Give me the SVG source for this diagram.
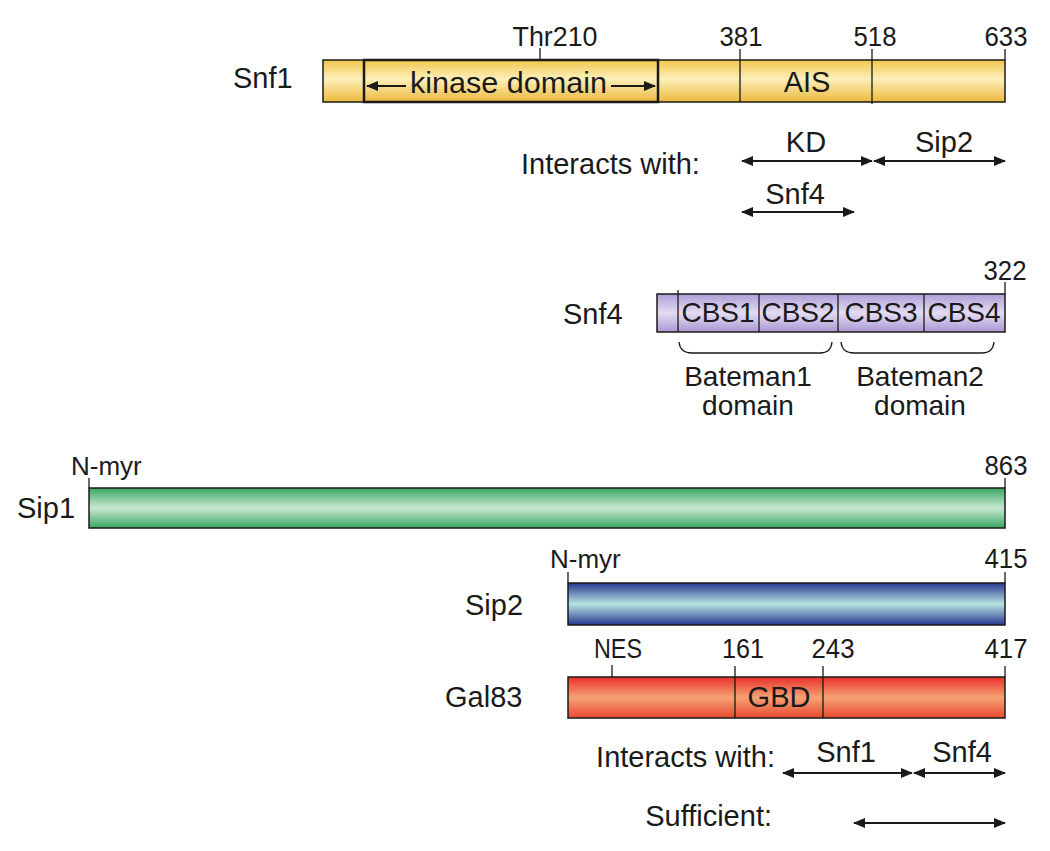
<svg xmlns="http://www.w3.org/2000/svg" width="1050" height="851" viewBox="0 0 1050 851">
<style>
text{font-family:"Liberation Sans",Arial,sans-serif;fill:#1a1a1a}
.lab{font-size:29px}
.num{font-size:28px;text-anchor:middle}
.mid{text-anchor:middle}
.bar{stroke:#1a1a1a;stroke-width:1.5}
.tick{stroke:#1a1a1a;stroke-width:1.3;fill:none}
.arr{stroke:#1a1a1a;stroke-width:2;fill:none;marker-start:url(#ah);marker-end:url(#ah)}
.brace{stroke:#1a1a1a;stroke-width:1.3;fill:none}
.bat{font-size:28px;text-anchor:middle}
</style>
<defs>
<marker id="ah" viewBox="0 0 12 10" refX="11" refY="5" markerWidth="12" markerHeight="10" markerUnits="userSpaceOnUse" orient="auto-start-reverse">
<path d="M0,0 L12,5 L0,10 Z" fill="#1a1a1a"/>
</marker>
<linearGradient id="gY" x1="0" y1="0" x2="0" y2="1">
<stop offset="0" stop-color="#f2c64c"/><stop offset="0.45" stop-color="#fdf0ba"/><stop offset="1" stop-color="#ecb83c"/>
</linearGradient>
<linearGradient id="gP" x1="0" y1="0" x2="0" y2="1">
<stop offset="0" stop-color="#ae9dd6"/><stop offset="0.5" stop-color="#e3dcf2"/><stop offset="1" stop-color="#a998d2"/>
</linearGradient>
<linearGradient id="gG" x1="0" y1="0" x2="0" y2="1">
<stop offset="0" stop-color="#3aa862"/><stop offset="0.5" stop-color="#c8e8d0"/><stop offset="1" stop-color="#3aa862"/>
</linearGradient>
<linearGradient id="gB" x1="0" y1="0" x2="0" y2="1">
<stop offset="0" stop-color="#283890"/><stop offset="0.5" stop-color="#b6e4e4"/><stop offset="1" stop-color="#283890"/>
</linearGradient>
<linearGradient id="gR" x1="0" y1="0" x2="0" y2="1">
<stop offset="0" stop-color="#e8302a"/><stop offset="0.5" stop-color="#f5a275"/><stop offset="1" stop-color="#e84a30"/>
</linearGradient>
</defs>

<g id="snf1">
<rect class="bar" x="323" y="60" width="682" height="42" fill="url(#gY)"/>
<rect x="364" y="60" width="294" height="42" fill="none" stroke="#1a1a1a" stroke-width="2.5"/>
<line class="tick" x1="540" y1="48" x2="540" y2="60"/>
<line class="tick" x1="740" y1="49" x2="740" y2="102"/>
<line class="tick" x1="872" y1="49" x2="872" y2="104"/>
<line class="tick" x1="1005" y1="49" x2="1005" y2="60"/>
<text class="lab" x="233" y="88">Snf1</text>
<text class="num" x="555" y="46" textLength="85" lengthAdjust="spacingAndGlyphs">Thr210</text>
<text class="num" x="741" y="46" textLength="43" lengthAdjust="spacingAndGlyphs">381</text>
<text class="num" x="875" y="46" textLength="43" lengthAdjust="spacingAndGlyphs">518</text>
<text class="num" x="1006" y="46" textLength="43" lengthAdjust="spacingAndGlyphs">633</text>
<text class="lab" x="410" y="93" textLength="197" lengthAdjust="spacingAndGlyphs">kinase domain</text>
<line class="tick" x1="367" y1="86" x2="406" y2="86" style="stroke-width:2;marker-start:url(#ah)"/>
<line class="tick" x1="611" y1="86" x2="655" y2="86" style="stroke-width:2;marker-end:url(#ah)"/>
<text class="lab mid" x="807" y="92">AIS</text>
</g>

<g id="snf1-interactions">
<text class="lab" x="521" y="174">Interacts with:</text>
<text class="lab mid" x="806" y="152">KD</text>
<text class="lab mid" x="944" y="152">Sip2</text>
<text class="lab mid" x="795" y="204">Snf4</text>
</g>

<g id="snf4">
<rect class="bar" x="657" y="294" width="348" height="38" fill="url(#gP)"/>
<line class="tick" x1="678" y1="290" x2="678" y2="332"/>
<line class="tick" x1="759" y1="294" x2="759" y2="332"/>
<line class="tick" x1="838" y1="294" x2="838" y2="332"/>
<line class="tick" x1="924" y1="294" x2="924" y2="332"/>
<line class="tick" x1="1005" y1="282" x2="1005" y2="294"/>
<text class="lab" x="563" y="324">Snf4</text>
<text class="num" x="1005" y="280" textLength="43" lengthAdjust="spacingAndGlyphs">322</text>
<text class="lab mid" x="718" y="322" style="font-size:28px">CBS1</text>
<text class="lab mid" x="798" y="322" style="font-size:28px">CBS2</text>
<text class="lab mid" x="881" y="322" style="font-size:28px">CBS3</text>
<text class="lab mid" x="964" y="322" style="font-size:28px">CBS4</text>
<path class="brace" d="M679,342 Q680,353 692,353 L820,353 Q831,353 832,342"/>
<path class="brace" d="M841,342 Q842,353 854,353 L982,353 Q993,353 994,342"/>
<text class="bat" x="748" y="386">Bateman1</text>
<text class="bat" x="748" y="415">domain</text>
<text class="bat" x="920" y="386">Bateman2</text>
<text class="bat" x="920" y="415">domain</text>
</g>

<g id="sip1">
<rect class="bar" x="89" y="488" width="916" height="40" fill="url(#gG)"/>
<line class="tick" x1="89" y1="478" x2="89" y2="488"/>
<line class="tick" x1="1005" y1="478" x2="1005" y2="488"/>
<text class="lab" x="17" y="518">Sip1</text>
<text x="71" y="475" style="font-size:26px">N-myr</text>
<text class="num" x="1006" y="475" textLength="43" lengthAdjust="spacingAndGlyphs">863</text>
</g>

<g id="sip2">
<rect class="bar" x="568" y="583" width="437" height="42" fill="url(#gB)"/>
<line class="tick" x1="568" y1="572" x2="568" y2="583"/>
<line class="tick" x1="1005" y1="572" x2="1005" y2="583"/>
<text class="lab" x="465" y="615">Sip2</text>
<text x="550" y="568" style="font-size:26px">N-myr</text>
<text class="num" x="1006" y="568" textLength="43" lengthAdjust="spacingAndGlyphs">415</text>
</g>

<g id="gal83">
<rect class="bar" x="568" y="677" width="437" height="41" fill="url(#gR)"/>
<line class="tick" x1="612" y1="665" x2="612" y2="677"/>
<line class="tick" x1="735" y1="666" x2="735" y2="718"/>
<line class="tick" x1="823" y1="666" x2="823" y2="718"/>
<line class="tick" x1="1005" y1="666" x2="1005" y2="677"/>
<text class="lab" x="445" y="707">Gal83</text>
<text class="num" x="618" y="658" textLength="48" lengthAdjust="spacingAndGlyphs">NES</text>
<text class="num" x="743" y="658" textLength="42" lengthAdjust="spacingAndGlyphs">161</text>
<text class="num" x="833" y="658" textLength="43" lengthAdjust="spacingAndGlyphs">243</text>
<text class="num" x="1006" y="658" textLength="43" lengthAdjust="spacingAndGlyphs">417</text>
<text class="lab mid" x="779" y="707">GBD</text>
</g>

<g id="gal83-interactions">
<text class="lab" x="775" y="767" style="text-anchor:end">Interacts with:</text>
<text class="lab mid" x="846" y="762">Snf1</text>
<text class="lab mid" x="962" y="762">Snf4</text>
<text class="lab" x="772" y="826" style="text-anchor:end">Sufficient:</text>
</g>

<g id="connectors">
<line class="arr" x1="742" y1="161" x2="872" y2="161"/>
<line class="arr" x1="874" y1="161" x2="1005" y2="161"/>
<line class="arr" x1="742" y1="212" x2="854" y2="212"/>
<line class="arr" x1="783" y1="773" x2="912" y2="773"/>
<line class="arr" x1="914" y1="773" x2="1005" y2="773"/>
<line class="arr" x1="854" y1="823" x2="1005" y2="823"/>
</g>
</svg>
